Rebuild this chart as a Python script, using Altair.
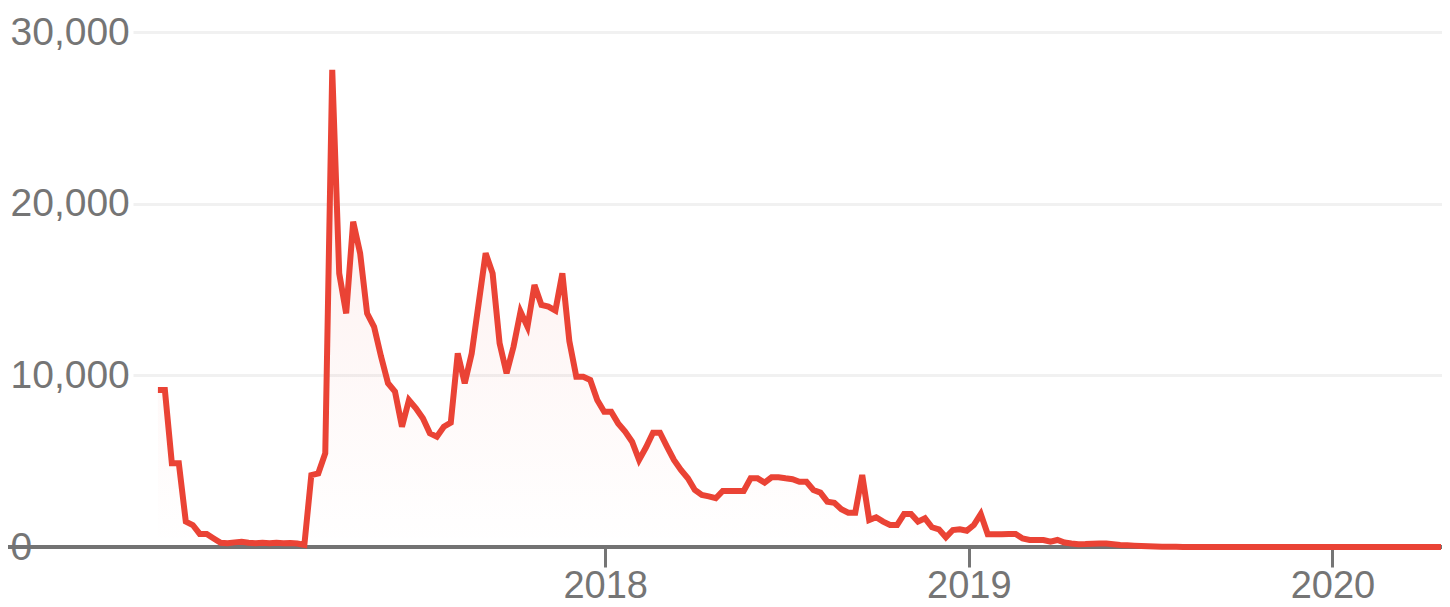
import altair as alt
import pandas as pd

# Weekly series (Google-Trends style), first week 2016-10-09
start_week = "2016-10-09"
values = [
    9150, 9150, 4880, 4880, 1480, 1280, 760, 760, 500, 250,
    220, 270, 310, 250, 220, 250, 220, 250, 220, 230,
    200, 120, 4190, 4290, 5460, 27800, 15940, 13610, 18950, 17110,
    13610, 12830, 11090, 9540, 9050, 7010, 8560, 8080, 7500, 6620,
    6430, 7010, 7240, 11280, 9540, 11280, 14200, 17110, 15940, 11870,
    10120, 11670, 13710, 12830, 15260, 14100, 14000, 13770, 15940, 12000,
    9920, 9920, 9730, 8560, 7880, 7880, 7200, 6720, 6130, 5070,
    5810, 6660, 6660, 5850, 5070, 4490, 4000, 3320, 3030, 2950,
    2840, 3260, 3260, 3260, 3260, 4000, 4000, 3750, 4060, 4060,
    4000, 3950, 3800, 3800, 3320, 3170, 2640, 2580, 2200, 2000,
    2000, 4190, 1570, 1730, 1480, 1280, 1280, 1920, 1920, 1480,
    1670, 1150, 1030, 570, 990, 1030, 950, 1280, 1920, 740,
    740, 740, 760, 760, 500, 410, 410, 410, 310, 410,
    260, 200, 160, 170, 190, 210, 200, 160, 120, 100,
    80, 60, 40, 25, 15, 10, 10, 5, 5, 5,
    5, 0, 5, 0, 0, 5, 0, 0, 0, 0,
    0, 0, 0, 0, 0, 0, 0, 0, 0, 0,
    0, 0, 0, 0, 0, 0, 0, 0, 0, 0,
    0, 0, 0, 0, 0,
]
y_ticks = [0, 10000, 20000, 30000]
x_tick_years = [2018, 2019, 2020]

dates = pd.date_range(start_week, periods=len(values), freq="7D").strftime("%Y-%m-%d")
df = pd.DataFrame({"date": list(dates), "value": values})

W, H = 1309, 515
GRAY = "#757575"
RED = "#EA4335"
FONT = "Liberation Sans"

x_enc = alt.X(
    "date:T",
    scale=alt.Scale(
        type="utc",
        domain=[alt.DateTime(year=2016, month=9, date=14, utc=True),
                alt.DateTime(year=2020, month=4, date=20, utc=True)],
    ),
    axis=alt.Axis(
        values=[alt.DateTime(year=y, month=1, date=1, utc=True) for y in x_tick_years],
        format="%Y", title=None, domain=False, grid=False,
        ticks=True, tickColor=GRAY, tickWidth=3, tickSize=20,
        labelFontSize=38, labelColor=GRAY, labelFont=FONT, labelPadding=0,
        labelFlush=False, labelOverlap=False,
    ),
)
y_enc = alt.Y(
    "value:Q",
    scale=alt.Scale(domain=[0, 30000], nice=False),
    axis=alt.Axis(
        values=y_ticks, format=",d", title=None, domain=False,
        ticks=False, tickSize=0, labelAlign="left", labelPadding=123,
        labelBaseline="middle", labelFontSize=39, labelColor=GRAY, labelFont=FONT,
        labelFlush=False, labelOverlap=False,
        grid=True, gridColor="#f1f1f1", gridWidth=3,
    ),
)

base = alt.Chart(df)

baseline = base.mark_rule(color="#737373", strokeWidth=3).encode(
    x=alt.value(-125), x2=alt.value(W), y=alt.value(H)
)

area = base.mark_area(
    color=alt.Gradient(
        gradient="linear",
        stops=[alt.GradientStop(color="rgba(234,67,53,0.10)", offset=0),
               alt.GradientStop(color="rgba(234,67,53,0.0)", offset=1)],
        x1=1, x2=1, y1=0, y2=1,
    )
).encode(x=x_enc, y=y_enc)

line = base.mark_line(color=RED, strokeWidth=6).encode(x=x_enc, y=y_enc)

chart = (
    alt.layer(baseline, area, line)
    .properties(
        width=W, height=H,
        autosize=alt.AutoSizeParams(type="none"),
        padding={"left": 125, "top": 24, "right": 0, "bottom": 70},
    )
    .configure_view(stroke=None)
)

chart.save("out.html", embed_options={"renderer": "svg", "actions": False})
